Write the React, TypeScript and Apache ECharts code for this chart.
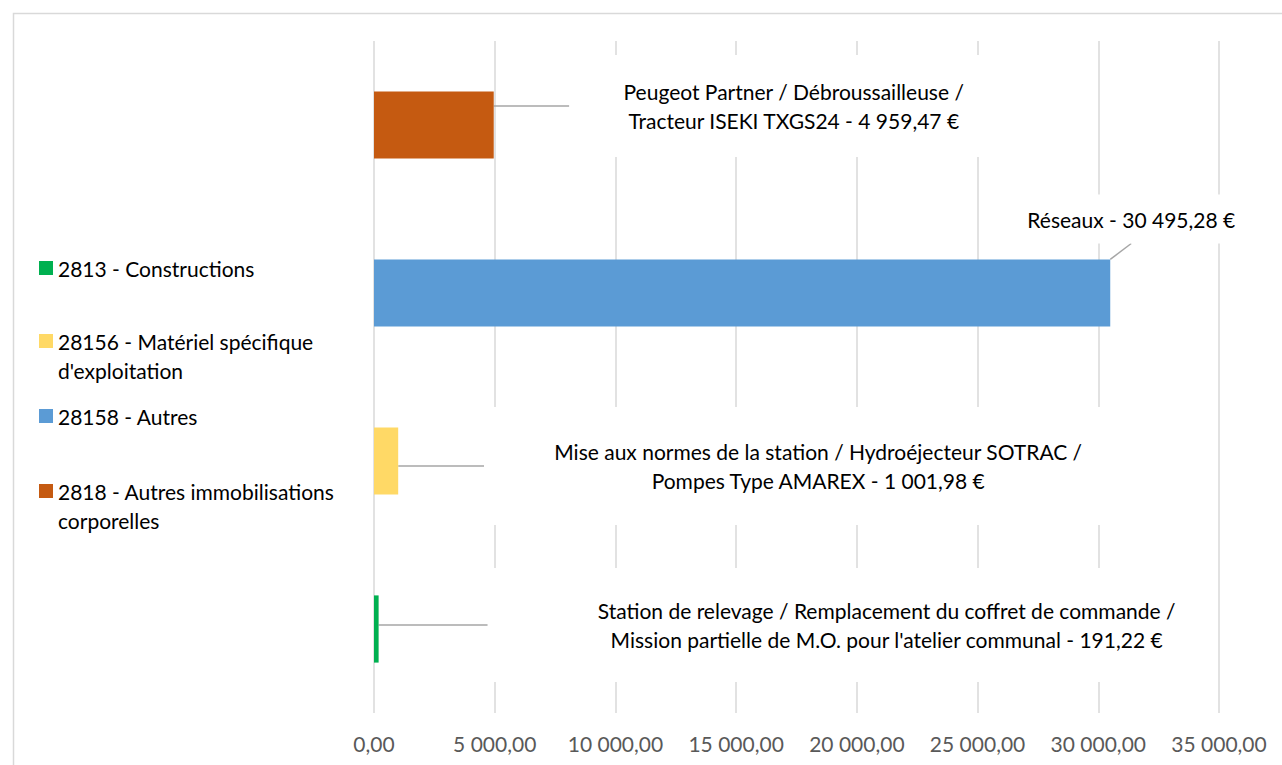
import React, { useEffect, useRef } from "react";
import * as echarts from "echarts";

// ---- data ----
const categories = [
  "2813 - Constructions",
  "28156 - Matériel spécifique d'exploitation",
  "28158 - Autres",
  "2818 - Autres immobilisations corporelles",
];
const legendLabels = [
  "2813 - Constructions",
  "28156 - Matériel spécifique\nd'exploitation",
  "28158 - Autres",
  "2818 - Autres immobilisations\ncorporelles",
];
const values = [191.22, 1001.98, 30495.28, 4959.47];
const descriptions = [
  "Station de relevage / Remplacement du coffret de commande /\nMission partielle de M.O. pour l'atelier communal",
  "Mise aux normes de la station / Hydroéjecteur SOTRAC /\nPompes Type AMAREX",
  "Réseaux",
  "Peugeot Partner / Débroussailleuse /\nTracteur ISEKI TXGS24",
];
const colors = ["#00B050", "#FFD966", "#5B9BD5", "#C55A11"];
const xMin = 0;
const xMax = 35000;
const xInterval = 5000;

// ---- layout (not data) ----
const labelDx = [463, 420, 21, 300];
const labelDy = [-4, 5, -74, -19];
const labelPadding = [
  [28, 20, 28, 110],
  [30, 70],
  [10, 14],
  [22, 54],
];
const legendTop = [268, 341, 416, 491];

const FONT = "Lato, 'Noto Sans', sans-serif";
const FS = 21;

function fmt(v: number): string {
  const [i, d] = v.toFixed(2).split(".");
  return i.replace(/\B(?=(\d{3})+(?!\d))/g, " ") + "," + d;
}

export default function App() {
  const ref = useRef<HTMLDivElement>(null);
  useEffect(() => {
    if (!ref.current) return;
    const chart = echarts.init(ref.current, undefined, { renderer: "svg" });
    const graphics: any[] = [
      {
        type: "rect",
        left: 11,
        top: 11,
        shape: { x: 0, y: 0, width: 1300, height: 800 },
        style: { fill: "none", stroke: "#D9D9D9", lineWidth: 1.5 },
        silent: true,
        z: -10,
      },
    ];
    legendLabels.forEach((name, i) => {
      graphics.push({
        type: "rect",
        shape: { x: 39, y: legendTop[i] - 7, width: 14, height: 14 },
        style: { fill: colors[i] },
      });
      graphics.push({
        type: "text",
        x: 58,
        y: legendTop[i] - 14.5,
        style: {
          text: name,
          fill: "#000000",
          font: `${FS}px ${FONT}`,
          lineHeight: 29,
          verticalAlign: "top",
          align: "left",
        },
      });
    });

    chart.setOption({
      animation: false,
      backgroundColor: "#ffffff",
      grid: { left: 374, right: 63, top: 41, bottom: 52, containLabel: false },
      xAxis: {
        type: "value",
        min: xMin,
        max: xMax,
        interval: xInterval,
        axisLine: { show: false },
        axisTick: { show: false },
        axisLabel: {
          formatter: (v: number) => fmt(v),
          color: "#595959",
          fontSize: FS,
          fontFamily: FONT,
          margin: 20,
        },
        splitLine: { show: true, lineStyle: { color: "#D9D9D9", width: 1.5 } },
      },
      yAxis: {
        type: "category",
        data: categories,
        axisLine: { show: false },
        axisTick: { show: false },
        axisLabel: { show: false },
        splitLine: { show: false },
      },
      series: [
        {
          type: "bar",
          barCategoryGap: "60%",
          data: values.map((v, i) => ({
            value: v,
            itemStyle: { color: colors[i] },
            label: { padding: labelPadding[i] },
          })),
          label: {
            show: true,
            position: "right",
            formatter: (p: any) => `${descriptions[p.dataIndex]} - ${fmt(p.value)} €`,
            color: "#000000",
            fontSize: FS,
            fontFamily: FONT,
            lineHeight: 29,
            align: "center",
            backgroundColor: "#ffffff",
          },
          labelLine: {
            show: true,
            lineStyle: { color: "#A6A6A6", width: 1.5 },
          },
          labelLayout: (params: any) => {
            const i = params.dataIndex;
            const r = params.rect;
            return {
              x: r.x + r.width + labelDx[i],
              y: r.y + r.height / 2 + labelDy[i],
              align: "center",
              verticalAlign: "middle",
            };
          },
        },
      ],
      graphic: graphics,
    });
    return () => chart.dispose();
  }, []);
  return (
    <div
      ref={ref}
      style={{ position: "fixed", left: 0, top: 0, width: 1282, height: 765, background: "#fff" }}
    />
  );
}
